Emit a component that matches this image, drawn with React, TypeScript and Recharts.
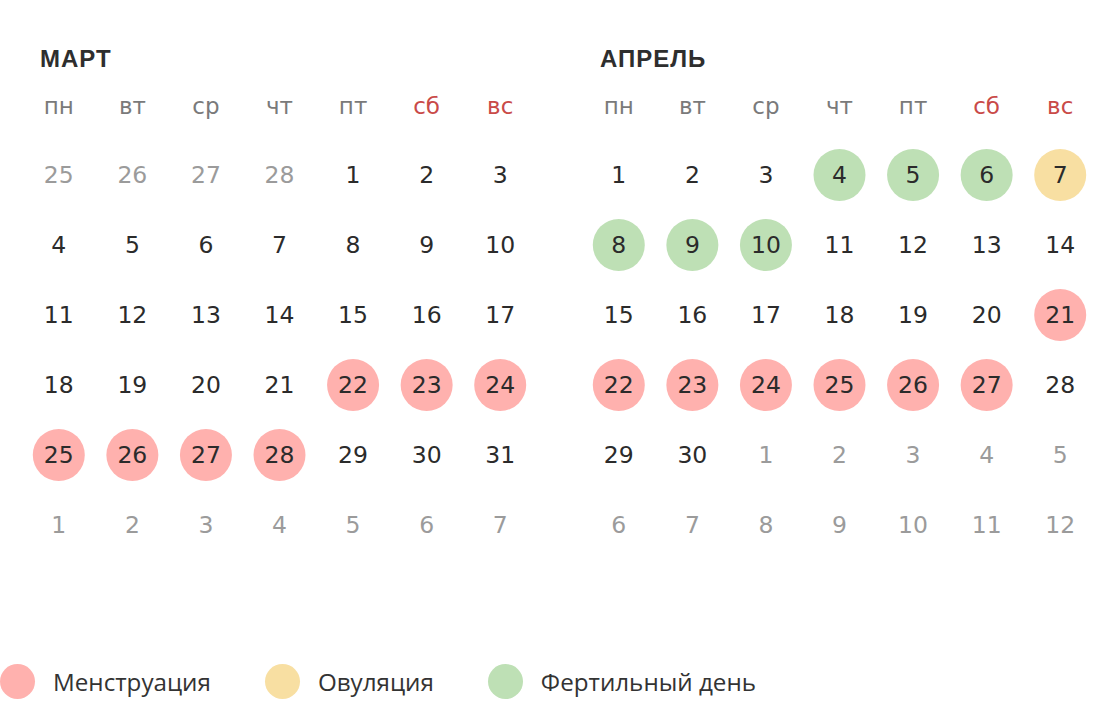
import React from 'react';
import { ScatterChart, Scatter, XAxis, YAxis } from 'recharts';

/* ── Theme ── */
const C = { pink: '#ffb1ae', yellow: '#f8dfa2', green: '#bee0b5', text: '#2b2b2b', muted: '#9b9b9b', head: '#7a7a7a', weekend: '#c94a48' };
const NUM_FONT = '"DejaVu Sans", sans-serif';

/* ── Data ── */
const weekdays = ['пн', 'вт', 'ср', 'чт', 'пт', 'сб', 'вс'];
const weekendCols = [5, 6];

const marchWeeks = [
  [25, 26, 27, 28, 1, 2, 3],
  [4, 5, 6, 7, 8, 9, 10],
  [11, 12, 13, 14, 15, 16, 17],
  [18, 19, 20, 21, 22, 23, 24],
  [25, 26, 27, 28, 29, 30, 31],
  [1, 2, 3, 4, 5, 6, 7],
];
const aprilWeeks = [
  [1, 2, 3, 4, 5, 6, 7],
  [8, 9, 10, 11, 12, 13, 14],
  [15, 16, 17, 18, 19, 20, 21],
  [22, 23, 24, 25, 26, 27, 28],
  [29, 30, 1, 2, 3, 4, 5],
  [6, 7, 8, 9, 10, 11, 12],
];

const marchMenstruation = [22, 23, 24, 25, 26, 27, 28];
const aprilMenstruation = [21, 22, 23, 24, 25, 26, 27];
const aprilOvulation = [7];
const aprilFertile = [4, 5, 6, 8, 9, 10];

const legend = [
  { name: 'Менструация', color: C.pink },
  { name: 'Овуляция', color: C.yellow },
  { name: 'Фертильный день', color: C.green },
];

type Kind = 'menstruation' | 'ovulation' | 'fertile' | null;
const KIND_COLOR: Record<string, string> = { menstruation: C.pink, ovulation: C.yellow, fertile: C.green };

const buildPoints = (weeks: number[][], marks: { menstruation?: number[]; ovulation?: number[]; fertile?: number[] }) =>
  weeks.flatMap((week, row) =>
    week.map((day, col) => {
      // days of the neighbouring months sit in the first and last rows
      const muted = (row === 0 && day > 7) || (row >= 4 && day < 15);
      let kind: Kind = null;
      if (!muted) {
        if (marks.menstruation?.includes(day)) kind = 'menstruation';
        else if (marks.ovulation?.includes(day)) kind = 'ovulation';
        else if (marks.fertile?.includes(day)) kind = 'fertile';
      }
      return { col, row, day, muted, kind };
    })
  );

const marchPoints = buildPoints(marchWeeks, { menstruation: marchMenstruation });
const aprilPoints = buildPoints(aprilWeeks, { menstruation: aprilMenstruation, ovulation: aprilOvulation, fertile: aprilFertile });

/* ── Shapes ── */
const WeekdayTick = ({ x, y, payload }: any) => (
  <text x={x} y={y} dy={-18} textAnchor="middle" fontFamily={NUM_FONT} fontSize={23}
    fill={weekendCols.includes(payload.value) ? C.weekend : C.head}>
    {weekdays[payload.value]}
  </text>
);

const DayShape = (props: any) => {
  const { cx, cy, payload } = props;
  return (
    <g>
      {payload.kind && <circle cx={cx} cy={cy} r={26} fill={KIND_COLOR[payload.kind]} />}
      <text x={cx} y={cy} dy={7.5} textAnchor="middle" fontFamily={NUM_FONT} fontSize={23.5}
        fill={payload.muted ? C.muted : C.text}>
        {payload.day}
      </text>
    </g>
  );
};

const Month = ({ title, data, left }: { title: string; data: any[]; left: number }) => (
  <div style={{ position: 'absolute', left, top: 0, width: 560, height: 600 }}>
    <div style={{ position: 'absolute', left: 40, top: 46, fontFamily: '"Liberation Sans", Arial, sans-serif', fontWeight: 700, fontSize: 24, lineHeight: '26px', letterSpacing: 1, color: '#2e2e2e' }}>
      {title}
    </div>
    <ScatterChart width={560} height={600} margin={{ top: 100, right: 23, bottom: 40, left: 22 }}>
      <XAxis type="number" dataKey="col" domain={[-0.5, 6.5]} ticks={[0, 1, 2, 3, 4, 5, 6]} interval={0}
        orientation="top" height={40} axisLine={false} tickLine={false} tick={<WeekdayTick />} />
      <YAxis type="number" dataKey="row" domain={[-0.5, 5.5]} reversed hide />
      <Scatter data={data} isAnimationActive={false} shape={DayShape} />
    </ScatterChart>
  </div>
);

export default function App() {
  return (
    <div style={{ position: 'absolute', left: 0, top: 0, width: 1120, height: 722, background: '#fff', overflow: 'hidden' }}>
      <Month title="МАРТ" data={marchPoints} left={0} />
      <Month title="АПРЕЛЬ" data={aprilPoints} left={560} />
      <div style={{ position: 'absolute', left: 0, top: 663, height: 36, display: 'flex', alignItems: 'center', gap: 54, fontFamily: '"Open Sans", sans-serif', fontSize: 24.2, color: '#333' }}>
        {legend.map((l) => (
          <div key={l.name} style={{ display: 'flex', alignItems: 'center', gap: 18 }}>
            <span style={{ width: 35, height: 35, borderRadius: '50%', background: l.color, display: 'inline-block' }} />
            <span>{l.name}</span>
          </div>
        ))}
      </div>
    </div>
  );
}
